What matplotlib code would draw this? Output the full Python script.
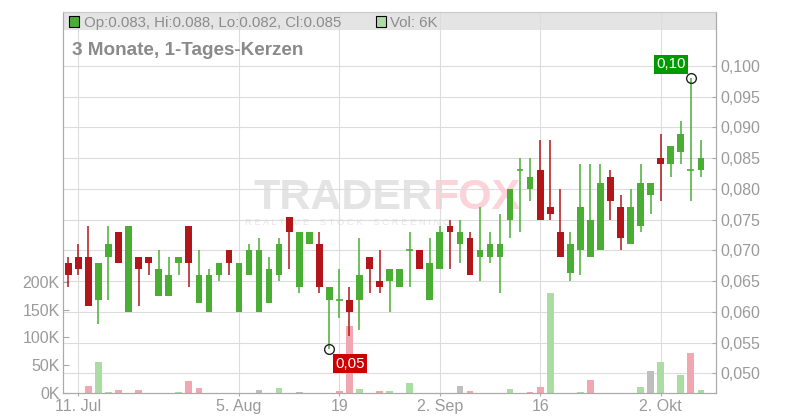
import matplotlib
matplotlib.use('Agg')
import matplotlib.pyplot as plt
from matplotlib.patches import Rectangle
from matplotlib.ticker import FuncFormatter, FixedLocator
import matplotlib.transforms as mtransforms
import numpy as np

plt.rcParams['font.family'] = ['Liberation Sans', 'DejaVu Sans']

# ---------------- data ----------------
opens = [0.068, 0.069, 0.069, 0.062, 0.069, 0.073, 0.060, 0.069, 0.069, 0.0625,
         0.0625, 0.068, 0.074, 0.0615, 0.060, 0.066, 0.070, 0.060, 0.066, 0.060,
         0.0615, 0.066, 0.0755, 0.064, 0.071, 0.071, 0.062, 0.062, 0.062, 0.062,
         0.069, 0.065, 0.065, 0.064, 0.070, 0.070, 0.062, 0.067, 0.074, 0.071,
         0.072, 0.069, 0.069, 0.069, 0.075, 0.083, 0.080, 0.083, 0.077, 0.073,
         0.0664, 0.070, 0.069, 0.070, 0.082, 0.077, 0.071, 0.074, 0.079, 0.085,
         0.084, 0.086, 0.083, 0.083]
highs = [0.069, 0.071, 0.074, 0.068, 0.074, 0.073, 0.074, 0.069, 0.069, 0.070,
         0.069, 0.069, 0.074, 0.070, 0.067, 0.068, 0.070, 0.068, 0.071, 0.072,
         0.069, 0.072, 0.0755, 0.073, 0.073, 0.073, 0.064, 0.067, 0.064, 0.072,
         0.069, 0.070, 0.067, 0.067, 0.073, 0.070, 0.072, 0.074, 0.075, 0.075,
         0.073, 0.077, 0.073, 0.076, 0.080, 0.085, 0.085, 0.088, 0.088, 0.080,
         0.073, 0.084, 0.084, 0.084, 0.083, 0.079, 0.080, 0.084, 0.081, 0.089,
         0.087, 0.091, 0.098, 0.088]
lows = [0.064, 0.066, 0.061, 0.058, 0.062, 0.068, 0.060, 0.061, 0.066, 0.0625,
        0.0625, 0.066, 0.064, 0.0615, 0.060, 0.065, 0.066, 0.060, 0.066, 0.060,
        0.0615, 0.065, 0.067, 0.063, 0.071, 0.063, 0.054, 0.059, 0.056, 0.057,
        0.063, 0.063, 0.060, 0.064, 0.064, 0.067, 0.062, 0.067, 0.067, 0.068,
        0.066, 0.065, 0.068, 0.063, 0.072, 0.073, 0.078, 0.075, 0.075, 0.069,
        0.065, 0.066, 0.069, 0.070, 0.075, 0.070, 0.071, 0.073, 0.076, 0.078,
        0.082, 0.084, 0.078, 0.082]
closes = [0.066, 0.067, 0.061, 0.068, 0.071, 0.068, 0.074, 0.067, 0.068, 0.067,
          0.066, 0.069, 0.068, 0.066, 0.066, 0.068, 0.068, 0.068, 0.070, 0.070,
          0.067, 0.071, 0.073, 0.073, 0.073, 0.064, 0.064, 0.062, 0.060, 0.066,
          0.067, 0.064, 0.067, 0.067, 0.070, 0.067, 0.068, 0.073, 0.073, 0.073,
          0.066, 0.070, 0.071, 0.071, 0.080, 0.083, 0.082, 0.075, 0.076, 0.069,
          0.071, 0.077, 0.075, 0.081, 0.078, 0.072, 0.077, 0.081, 0.081, 0.084,
          0.087, 0.089, 0.083, 0.085]
volumes = [0, 0, 13000, 56000, 2500, 6000, 0, 6000, 0, 0,
           0, 2500, 22000, 9500, 0, 0, 0, 0, 0, 6000,
           0, 9500, 0, 2500, 0, 0, 0, 4000, 121000, 8000,
           0, 4000, 4000, 0, 18500, 0, 0, 0, 0, 12500,
           3500, 0, 0, 0, 8000, 0, 2500, 11000, 180000, 0,
           0, 2000, 23000, 0, 0, 0, 0, 11000, 40000, 56000,
           0, 33000, 72000, 6000]

date_tick_index = [1, 17, 27, 37, 47, 59]
date_tick_labels = ["11. Jul", "5. Aug", "19", "2. Sep", "16", "2. Okt"]
price_ticks = [0.050, 0.055, 0.060, 0.065, 0.070, 0.075, 0.080, 0.085, 0.090, 0.095, 0.100]
volume_ticks = [0, 50000, 100000, 150000, 200000]
title = "3 Monate, 1-Tages-Kerzen"

# ---------------- style ----------------
GREEN = '#4aae35'
RED = '#b3161a'
VOL_UP = '#aadca4'
VOL_DOWN = '#f0a7af'
VOL_FLAT = '#bebebe'
GRID = '#dcdcdc'
TICKC = '#9a9a9a'
SPINE = '#aaaaaa'

W, H = 800, 420
fig = plt.figure(figsize=(8, 4.2), dpi=100)
L, R, T, B = 63, 716, 12, 393
ax = fig.add_axes([L / W, 1 - B / H, (R - L) / W, (B - T) / H])
ax2 = ax.twinx()

n = len(opens)
x = np.arange(n)
o = np.array(opens); h = np.array(highs); l = np.array(lows); c = np.array(closes)
v = np.array(volumes)

ax.set_xlim(-0.53, 64.51)
ax.set_ylim(0, 685000)
ax2.set_ylim(0.046795, 0.10879)


def axfrac(px, py):
    return (px - L) / (R - L), (B - py) / (B - T)


# header band
ax.add_patch(Rectangle((0, 1 - 18 / (B - T)), 1, 18 / (B - T), transform=ax.transAxes,
                       facecolor='#e4e4e4', edgecolor='none', zorder=0.2))

# watermark
wx, wy = axfrac(432, 209)
ax.text(wx, wy, "TRADER", transform=ax.transAxes, ha='right', va='baseline',
        fontsize=31, fontweight='bold', color='#e4e4e4', zorder=0.3)
ax.text(wx, wy, "FOX", transform=ax.transAxes, ha='left', va='baseline',
        fontsize=31, fontweight='bold', color='#fbd3d8', zorder=0.3)
sx, sy = axfrac(348, 225)
ax.text(sx, sy, " ".join("REALTIME STOCK SCREENING").replace("   ", "    "),
        transform=ax.transAxes, ha='center', va='baseline', fontsize=6.8,
        color='#e6e6e6', zorder=0.3)

# price gridlines (drawn in the lower axes so volume bars cover them)
blend = mtransforms.blended_transform_factory(ax.transAxes, ax2.transData)
for p in price_ticks:
    ax.plot([0, 1], [p, p], transform=blend, color=GRID, lw=0.8, zorder=0.5)

# vertical gridlines
ax.set_xticks(date_tick_index)
ax.set_xticklabels(date_tick_labels)
ax.set_axisbelow(True)
ax.grid(axis='x', color=GRID, lw=0.8)

# volume bars
prev = np.concatenate([[c[0]], c[:-1]])
vcol = [VOL_UP if cc > pp else (VOL_DOWN if cc < pp else VOL_FLAT) for cc, pp in zip(c, prev)]
ax.bar(x, v, width=0.66, color=vcol, zorder=1)

# candles
up = c >= o
ccol = np.where(up, GREEN, RED)
ax2.vlines(x, l, h, colors=ccol, lw=1.1, zorder=3)
body_bottom = np.minimum(o, c)
body_h = np.abs(c - o)
ax2.bar(x, body_h, bottom=body_bottom, width=0.66, color=ccol, zorder=4)
doji = body_h == 0
ax2.hlines(c[doji], x[doji] - 0.33, x[doji] + 0.33, colors=ccol[doji], lw=1.2, zorder=4)

# high / low annotations
ih = int(np.argmax(h)); il = int(np.argmin(l))
ax2.plot([ih, il], [h[ih], l[il]], 'o', ms=7, mfc='none', mec='#222222', mew=1.0, zorder=6)
ax2.annotate(f"{h[ih]:.2f}".replace('.', ','), xy=(ih, h[ih]), xytext=(-5, 7),
             textcoords='offset pixels', ha='right', va='bottom', color='white', fontsize=10.8,
             bbox=dict(boxstyle='square,pad=0.15', fc='#009a00', ec='none'), zorder=7)
ax2.annotate(f"{l[il]:.2f}".replace('.', ','), xy=(il, l[il]), xytext=(6, -8),
             textcoords='offset pixels', ha='left', va='top', color='white', fontsize=10.8,
             bbox=dict(boxstyle='square,pad=0.15', fc='#cc0000', ec='none'), zorder=7)

# axes formatting
ax.yaxis.set_major_locator(FixedLocator(volume_ticks))
ax.yaxis.set_major_formatter(FuncFormatter(lambda val, pos: f"{int(round(val / 1000))}K"))
ax2.yaxis.set_major_locator(FixedLocator(price_ticks))
ax2.yaxis.set_major_formatter(FuncFormatter(lambda val, pos: f"{val:.3f}".replace('.', ',')))

ax.tick_params(axis='y', direction='in', length=4.5, width=0.8, color=SPINE,
               labelcolor=TICKC, labelsize=11.5, pad=2.4)
ax2.tick_params(axis='y', direction='in', length=3, width=0.8, color=SPINE,
                labelcolor=TICKC, labelsize=11.5, pad=2.9)
ax.tick_params(axis='x', direction='out', length=2.5, width=0.8, color=SPINE,
               labelcolor=TICKC, labelsize=11.5, pad=1.5)

for a in (ax, ax2):
    for s in ('left', 'right', 'bottom'):
        a.spines[s].set_color(SPINE)
        a.spines[s].set_linewidth(0.8)
    a.spines['top'].set_color('#cccccc')
    a.spines['top'].set_linewidth(0.8)

# header legend
fig.add_artist(Rectangle((68.5 / W, 1 - 26.5 / H), 10 / W, 10 / H, transform=fig.transFigure,
                         facecolor=GREEN, edgecolor='black', lw=0.8))
fig.text(84 / W, 1 - 27 / H,
         f"Op:{o[-1]:.3f}, Hi:{h[-1]:.3f}, Lo:{l[-1]:.3f}, Cl:{c[-1]:.3f}",
         ha='left', va='baseline', fontsize=10.8, color='#8c8c8c')
fig.add_artist(Rectangle((375.5 / W, 1 - 26.5 / H), 10 / W, 10 / H, transform=fig.transFigure,
                         facecolor=vcol[-1], edgecolor='black', lw=0.8))
fig.text(390 / W, 1 - 27 / H, f"Vol: {v[-1] / 1000:.0f}K",
         ha='left', va='baseline', fontsize=10.8, color='#8c8c8c')

# title
fig.text(72 / W, 1 - 55 / H, title, ha='left', va='baseline', fontsize=13.6,
         fontweight='bold', color='#8a8a8a')

fig.savefig('out.png', dpi=100)
